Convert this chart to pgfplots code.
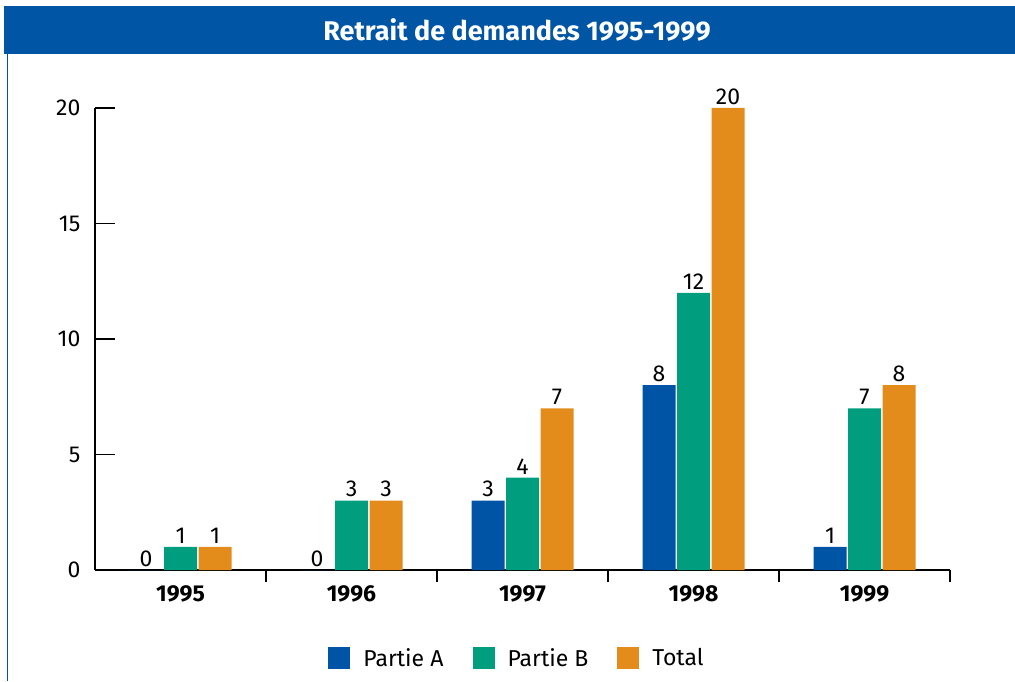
\documentclass[border=0pt]{standalone}
\usepackage{fontspec}
\setmainfont{Fira Sans}
\usepackage{pgfplots}
\pgfplotsset{compat=1.18}
\definecolor{cA}{HTML}{0054A6}
\definecolor{cB}{HTML}{009E7E}
\definecolor{cT}{HTML}{E38C1B}
\definecolor{frameblue}{HTML}{0055A4}
\pgfplotsset{sq legend/.style={legend image code/.code={\fill[##1] (0pt,-11pt) rectangle (22pt,11pt);}}}
\pgfkeys{/pgf/number format/assume math mode=true}
\begin{document}
\begin{tikzpicture}
\useasboundingbox (0pt,0pt) rectangle (1015pt,681pt);
\fill[frameblue] (4pt,627pt) rectangle (1015pt,675pt);
\node[text=white,font=\fontsize{27}{31}\selectfont\bfseries] at (517pt,651pt) {Retrait de demandes 1995-1999};
\draw[frameblue,line width=1.5pt] (7.5pt,627pt) -- (7.5pt,0pt);
\begin{axis}[
  at={(95pt,111pt)}, anchor=south west, scale only axis,
  width=855pt, height=462pt,
  xmin=-0.5, xmax=4.5, ymin=0, ymax=20, clip=false,
  axis x line=bottom, axis y line=left,
  axis line style={-, line width=1.5pt},
  ytick={0,5,10,15,20},
  xtick={0,1,2,3,4},
  xticklabels={1995,1996,1997,1998,1999},
  minor xtick={0.5,1.5,2.5,3.5,4.5},
  tick align=inside,
  major tick length=20pt, minor tick length=12pt,
  tick style={black, line width=1.5pt},
  major x tick style={draw=none},
  yticklabel style={font=\fontsize{23}{27}\selectfont, xshift=-11pt},
  xticklabel style={font=\fontsize{23}{27}\selectfont\bfseries, yshift=8pt},
  ybar=1.5pt, bar width=33pt,
  nodes near coords,
  every node near coord/.append style={font=\fontsize{23}{27}\selectfont, black},
  legend style={at={(rel axis cs:0.4936,-0.1905)}, anchor=center, draw=none,
    legend columns=3, font=\fontsize{23}{27}\selectfont,
    /tikz/every odd column/.append style={column sep=11pt},
    /tikz/every even column/.append style={column sep=27pt},
    legend cell align=left},
]
\addplot[fill=cA, draw=none, sq legend] coordinates {(0,0) (1,0) (2,3) (3,8) (4,1)};
\addplot[fill=cB, draw=none, sq legend] coordinates {(0,1) (1,3) (2,4) (3,12) (4,7)};
\addplot[fill=cT, draw=none, sq legend] coordinates {(0,1) (1,3) (2,7) (3,20) (4,8)};
\legend{Partie A, Partie B, Total}
\end{axis}
\end{tikzpicture}
\end{document}
